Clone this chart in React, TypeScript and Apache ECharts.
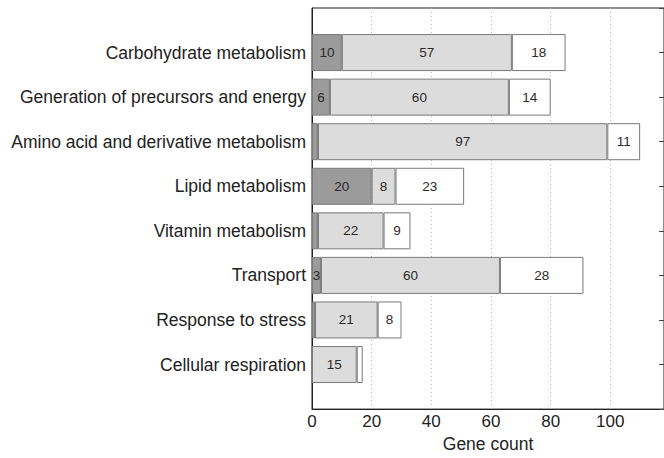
import React, { useEffect, useRef } from "react";
import * as echarts from "echarts";

const categories = [
  "Carbohydrate metabolism",
  "Generation of precursors and energy",
  "Amino acid and derivative metabolism",
  "Lipid metabolism",
  "Vitamin metabolism",
  "Transport",
  "Response to stress",
  "Cellular respiration",
];
const darkValues = [10, 6, 2, 20, 2, 3, 1, 0];
const lightValues = [57, 60, 97, 8, 22, 60, 21, 15];
const whiteValues = [18, 14, 11, 23, 9, 28, 8, 2];
const xTicks = [0, 20, 40, 60, 80, 100];

const pad = <T,>(arr: T[]) => [null, ...arr, null];

export default function App() {
  const ref = useRef<HTMLDivElement>(null);
  useEffect(() => {
    if (!ref.current) return;
    const chart = echarts.init(ref.current, null, { renderer: "svg" });
    const font = "'Liberation Sans', Arial, Helvetica, sans-serif";
    const labelCfg = {
      show: true,
      position: "inside",
      color: "#2a2a2a",
      fontSize: 13.5,
      fontFamily: font,
      formatter: (p: any) => (p.value >= 3 ? String(p.value) : ""),
    };
    const mk = (name: string, vals: number[], color: string) => ({
      name,
      type: "bar",
      stack: "total",
      barWidth: 37,
      data: pad(vals),
      itemStyle: { color, borderColor: "#7a7a7a", borderWidth: 1 },
      label: labelCfg,
      emphasis: { disabled: true },
    });
    chart.setOption({
      animation: false,
      grid: {
        left: 312,
        top: 8,
        right: -4,
        bottom: 41,
        show: true,
        borderColor: "#222",
        borderWidth: 1,
        backgroundColor: "transparent",
      },
      xAxis: {
        type: "value",
        min: 0,
        max: 118,
        interval: 20,
        name: "Gene count",
        nameLocation: "middle",
        nameGap: 22,
        nameTextStyle: { fontSize: 17.5, color: "#222", fontFamily: font },
        axisLine: { show: true, lineStyle: { color: "#222" } },
        axisTick: { show: false },
        axisLabel: {
          fontSize: 17,
          color: "#222",
          fontFamily: font,
          margin: 4,
          showMaxLabel: false,
          formatter: (v: number) => (xTicks.includes(v) ? String(v) : ""),
        },
        splitLine: {
          show: true,
          lineStyle: { color: "#bbb", type: [1, 3], width: 1 },
        },
      },
      yAxis: [
        {
          type: "category",
          data: pad(categories).map((c) => c ?? ""),
          inverse: true,
          boundaryGap: false,
          axisLine: { show: true, lineStyle: { color: "#222" } },
          axisTick: { show: false },
          axisLabel: { fontSize: 17.5, color: "#222", fontFamily: font, margin: 6 },
          splitLine: { show: false },
        },
        {
          type: "category",
          data: pad(categories).map((c) => c ?? ""),
          inverse: true,
          boundaryGap: false,
          position: "right",
          axisLine: { show: false },
          axisTick: { show: true, inside: true, length: 5, lineStyle: { color: "#444" } },
          axisLabel: { show: false },
          splitLine: { show: false },
        },
      ],
      series: [
        mk("dark", darkValues, "#9b9b9b"),
        mk("light", lightValues, "#dcdcdc"),
        mk("white", whiteValues, "#ffffff"),
      ],
    });
    return () => chart.dispose();
  }, []);
  return <div ref={ref} style={{ width: 664, height: 458, position: "absolute", left: 0, top: 0 }} />;
}
